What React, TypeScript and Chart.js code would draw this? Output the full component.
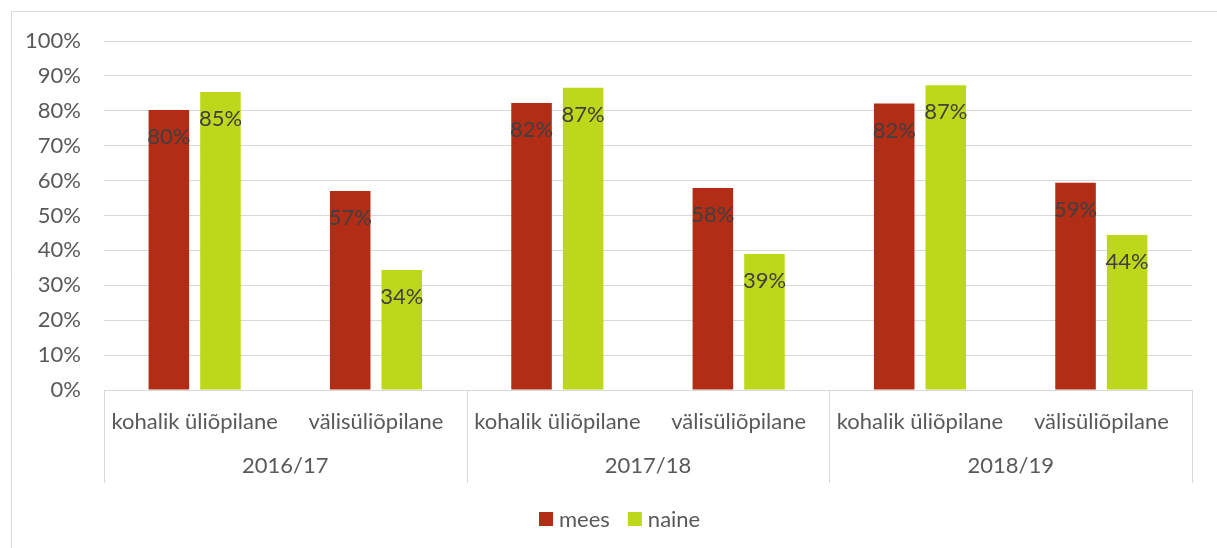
import React, { useEffect, useRef } from "react";
import { Chart, registerables } from "chart.js";

Chart.register(...registerables);

const subCategories = [
  "kohalik üliõpilane",
  "välisüliõpilane",
  "kohalik üliõpilane",
  "välisüliõpilane",
  "kohalik üliõpilane",
  "välisüliõpilane",
];
const groups = ["2016/17", "2017/18", "2018/19"];
const seriesNames = ["mees", "naine"];
const meesValues = [80.2, 57.0, 82.2, 57.9, 82.1, 59.4];
const naineValues = [85.4, 34.4, 86.6, 39.0, 87.3, 44.4];
const yMin = 0;
const yMax = 100;
const yStep = 10;

const COLORS = ["#B12D16", "#BDD81A"];
const FONT = "Lato";
const FS = 22;
const TEXT = "#595959";
const GRID = "#d9d9d9";

const decorPlugin = {
  id: "decor",
  beforeDraw(chart: any) {
    const ctx = chart.ctx;
    ctx.save();
    ctx.strokeStyle = GRID;
    ctx.lineWidth = 1;
    ctx.beginPath();
    ctx.moveTo(11.5, chart.height);
    ctx.lineTo(11.5, 11.5);
    ctx.lineTo(chart.width, 11.5);
    ctx.stroke();
    ctx.restore();
  },
  afterDatasetsDraw(chart: any) {
    const ctx = chart.ctx;
    ctx.save();
    ctx.font = `${FS}px ${FONT}`;
    ctx.fillStyle = "#404040";
    ctx.textAlign = "center";
    ctx.textBaseline = "middle";
    chart.data.datasets.forEach((ds: any, di: number) => {
      const meta = chart.getDatasetMeta(di);
      meta.data.forEach((bar: any, i: number) => {
        const v = ds.data[i];
        ctx.fillText(Math.round(v) + "%", bar.x, bar.y + 27);
      });
    });
    ctx.restore();
  },
  afterDraw(chart: any) {
    const ctx = chart.ctx;
    const x = chart.scales.x;
    const area = chart.chartArea;
    const n = subCategories.length;
    const per = n / groups.length;
    const catW = (x.right - x.left) / n;
    ctx.save();
    ctx.strokeStyle = GRID;
    ctx.lineWidth = 1;
    for (let g = 0; g <= groups.length; g++) {
      const px = Math.round(x.left + g * per * catW) + 0.5;
      ctx.beginPath();
      ctx.moveTo(px, area.bottom);
      ctx.lineTo(px, area.bottom + 93);
      ctx.stroke();
    }
    ctx.font = `${FS}px ${FONT}`;
    ctx.fillStyle = TEXT;
    ctx.textAlign = "center";
    ctx.textBaseline = "middle";
    groups.forEach((g, i) => {
      const cx = x.left + (i + 0.5) * per * catW;
      ctx.fillText(g, cx, area.bottom + 76);
    });
    // legend
    const box = 14;
    const gapBoxText = 6;
    const gapItems = 18;
    const widths = seriesNames.map((s) => ctx.measureText(s).width);
    const total =
      widths.reduce((a, b) => a + b, 0) +
      seriesNames.length * (box + gapBoxText) +
      gapItems * (seriesNames.length - 1);
    let lx = Math.round(620 - total / 2);
    const ly = 519;
    ctx.textAlign = "left";
    seriesNames.forEach((s, i) => {
      ctx.fillStyle = COLORS[i];
      ctx.fillRect(lx, ly - box / 2, box, box);
      lx += box + gapBoxText;
      ctx.fillStyle = TEXT;
      ctx.fillText(s, lx, ly + 1);
      lx += widths[i] + gapItems;
    });
    ctx.restore();
  },
};

export default function App() {
  const ref = useRef<HTMLCanvasElement>(null);
  useEffect(() => {
    if (!ref.current) return;
    const chart = new Chart(ref.current, {
      type: "bar",
      data: {
        labels: subCategories,
        datasets: [
          {
            label: seriesNames[0],
            data: meesValues,
            backgroundColor: COLORS[0],
            categoryPercentage: 0.569,
            barPercentage: 0.786,
          },
          {
            label: seriesNames[1],
            data: naineValues,
            backgroundColor: COLORS[1],
            categoryPercentage: 0.569,
            barPercentage: 0.786,
          },
        ],
      },
      options: {
        animation: false,
        responsive: true,
        maintainAspectRatio: false,
        layout: { padding: { left: 0, right: 25, top: 41, bottom: 0 } },
        plugins: {
          legend: { display: false },
          tooltip: { enabled: false },
        },
        scales: {
          x: {
            grid: { display: false },
            border: { display: true, color: GRID },
            ticks: {
              color: TEXT,
              font: { family: FONT, size: FS },
              padding: 11,
              maxRotation: 0,
              autoSkip: false,
            },
            afterFit(scale: any) {
              scale.height = 158;
            },
          },
          y: {
            min: yMin,
            max: yMax,
            grid: { color: GRID, drawTicks: false },
            border: { display: false },
            ticks: {
              stepSize: yStep,
              color: TEXT,
              font: { family: FONT, size: FS },
              padding: 23,
              callback: (v: any) => v + "%",
            },
            afterFit(scale: any) {
              scale.width = 104;
            },
          },
        },
      },
      plugins: [decorPlugin],
    });
    return () => chart.destroy();
  }, []);
  return (
    <div style={{ position: "fixed", left: 0, top: 0, width: 1217, height: 548, background: "#fff" }}>
      <canvas ref={ref} />
    </div>
  );
}
